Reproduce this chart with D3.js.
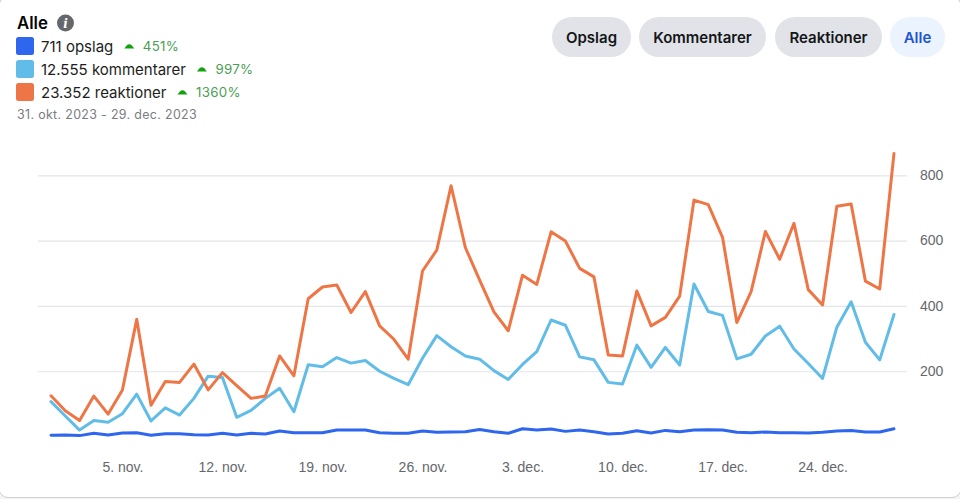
<!DOCTYPE html>
<html>
<head>
<meta charset="utf-8">
<script src="https://cdn.jsdelivr.net/npm/d3@7"></script>
<style>
  html, body { margin: 0; padding: 0; background: #f4f4f5; overflow: hidden; }
  svg { display: block; }
  .head { font-family: Inter, "Liberation Sans", sans-serif; }
  .axis text { font-family: "Liberation Sans", Arial, sans-serif; font-size: 14px; fill: #65676b; }
  .axis path, .axis line { display: none; }
  .grid line { stroke: #e4e5ea; stroke-width: 1.2; }
  .grid path { display: none; }
</style>
</head>
<body>
<svg width="960" height="499"></svg>
<script>
// Daily values, 31 Oct - 29 Dec 2023
const posts = [4, 5, 3, 10, 5, 11, 12, 4, 9, 9, 6, 5, 10, 5, 10, 8, 17, 12, 12, 12,
  20, 20, 20, 12, 10, 10, 17, 13, 14, 15, 22, 15, 10, 24, 20, 23, 16, 20, 15, 8,
  10, 18, 11, 19, 15, 20, 21, 20, 13, 12, 14, 12, 12, 11, 13, 17, 19, 14, 14, 24];
const comments = [107, 63, 20, 49, 44, 70, 130, 48, 88, 66, 117, 185, 181, 59, 80, 117, 148, 76, 220, 214,
  242, 225, 233, 200, 178, 159, 240, 309, 275, 247, 237, 202, 175, 221, 260, 357, 341, 244, 235, 166,
  161, 280, 212, 273, 219, 467, 383, 371, 238, 252, 308, 338, 268, 224, 178, 335, 413, 289, 235, 374];
const reactions = [125, 79, 49, 124, 69, 143, 359, 96, 169, 166, 222, 143, 196, 156, 117, 124, 247, 186, 422, 458,
  464, 380, 444, 339, 298, 237, 507, 571, 768, 579, 479, 382, 324, 494, 466, 627, 599, 515, 489, 250,
  247, 446, 339, 365, 430, 724, 710, 610, 349, 444, 628, 543, 653, 450, 403, 705, 712, 476, 452, 867];

const yTicks = [200, 400, 600, 800];
const xTickLabels = ["5. nov.", "12. nov.", "19. nov.", "26. nov.", "3. dec.", "10. dec.", "17. dec.", "24. dec."];
const legendLabels = ["711 opslag", "12.555 kommentarer", "23.352 reaktioner"];
const legendChanges = ["451%", "997%", "1360%"];
const buttonLabels = ["Opslag", "Kommentarer", "Reaktioner", "Alle"];
const seriesColors = ["#2f66ee", "#62bce8", "#ee7646"];

const svg = d3.select("svg"),
    width = +svg.attr("width"),
    height = +svg.attr("height");

// White card over a faint page background, bottom edge shows as a grey line
svg.append("rect")
    .attr("x", -1).attr("y", -3)
    .attr("width", width + 2).attr("height", height + 1.5)
    .attr("rx", 9)
    .attr("fill", "#fff")
    .attr("stroke", "#cfcfd1");

const start = new Date(2023, 9, 31);
const dates = posts.map((d, i) => d3.timeDay.offset(start, i));

const x = d3.scaleTime().domain([dates[0], dates[dates.length - 1]]).range([51, 894]);
const y = d3.scaleLinear().domain([0, 800]).range([436.6, 175.3]);

// Horizontal grid lines
svg.append("g")
    .attr("class", "grid")
    .attr("transform", "translate(38,0)")
    .call(d3.axisRight(y).tickValues(yTicks).tickSize(869).tickFormat(""));

// Right hand value axis
svg.append("g")
    .attr("class", "axis")
    .attr("transform", "translate(920,0)")
    .call(d3.axisRight(y).tickValues(yTicks).tickSize(0).tickPadding(0))
    .selectAll("text").attr("dy", "0.3em");

// Bottom date axis, one tick a week
const weekTicks = xTickLabels.map((d, i) => d3.timeDay.offset(start, 5 + i * 7));
svg.append("g")
    .attr("class", "axis")
    .attr("transform", "translate(0,462.5)")
    .call(d3.axisBottom(x).tickValues(weekTicks).tickSize(0).tickPadding(0)
        .tickFormat((d, i) => xTickLabels[i]));

const line = d3.line()
    .x((d, i) => x(dates[i]))
    .y(d => y(d));

[posts, comments, reactions].forEach((values, i) => {
    svg.append("path")
        .datum(values)
        .attr("fill", "none")
        .attr("stroke", seriesColors[i])
        .attr("stroke-width", 3)
        .attr("stroke-linejoin", "round")
        .attr("stroke-linecap", "round")
        .attr("d", line);
});

// Header
const head = svg.append("g").attr("class", "head");

head.append("text")
    .attr("x", 17).attr("y", 29)
    .attr("font-size", 16.8).attr("font-weight", 600).attr("fill", "#050505")
    .text("Alle");

head.append("circle").attr("cx", 65.5).attr("cy", 23).attr("r", 8.5).attr("fill", "#65676b");
head.append("text")
    .attr("x", 65.5).attr("y", 27.5)
    .attr("text-anchor", "middle")
    .attr("font-family", "'DejaVu Serif', serif")
    .attr("font-size", 12).attr("font-weight", 700).attr("font-style", "italic").attr("fill", "#fff")
    .text("i");

legendLabels.forEach((label, i) => {
    const rowY = 37 + i * 23;
    head.append("rect")
        .attr("x", 16).attr("y", rowY)
        .attr("width", 18).attr("height", 18).attr("rx", 2.5)
        .attr("fill", seriesColors[i]);

    const text = head.append("text")
        .attr("x", 41).attr("y", rowY + 14.5)
        .attr("font-size", 15).attr("fill", "#1c1e21")
        .text(label);

    const end = 41 + text.node().getComputedTextLength();

    // Small green rounded arrow
    head.append("path")
        .attr("d", `M${end + 11} ${rowY + 11.5} h10 l-2.4 -3 q-2.6 -2.4 -5.2 0 z`)
        .attr("fill", "#13a10e");

    head.append("text")
        .attr("x", end + 29.5).attr("y", rowY + 14)
        .attr("font-size", 13.3).attr("letter-spacing", 0.3).attr("fill", "#4b9e55")
        .text(legendChanges[i]);
});

head.append("text")
    .attr("x", 17).attr("y", 119)
    .attr("font-size", 12.4).attr("letter-spacing", 0.35).attr("fill", "#7a7c80")
    .text("31. okt. 2023 - 29. dec. 2023");

// Filter buttons
const buttonX = [552, 639, 775, 890];
const buttonW = [79, 127, 107, 55];
buttonLabels.forEach((label, i) => {
    const active = label === "Alle";
    head.append("rect")
        .attr("x", buttonX[i]).attr("y", 17)
        .attr("width", buttonW[i]).attr("height", 40).attr("rx", 20)
        .attr("fill", active ? "#ebf3fe" : "#e2e3e8");
    head.append("text")
        .attr("x", buttonX[i] + buttonW[i] / 2).attr("y", 42.5)
        .attr("text-anchor", "middle")
        .attr("font-size", 15).attr("font-weight", 600)
        .attr("fill", active ? "#1f55cf" : "#14161a")
        .text(label);
});
</script>
</body>
</html>
